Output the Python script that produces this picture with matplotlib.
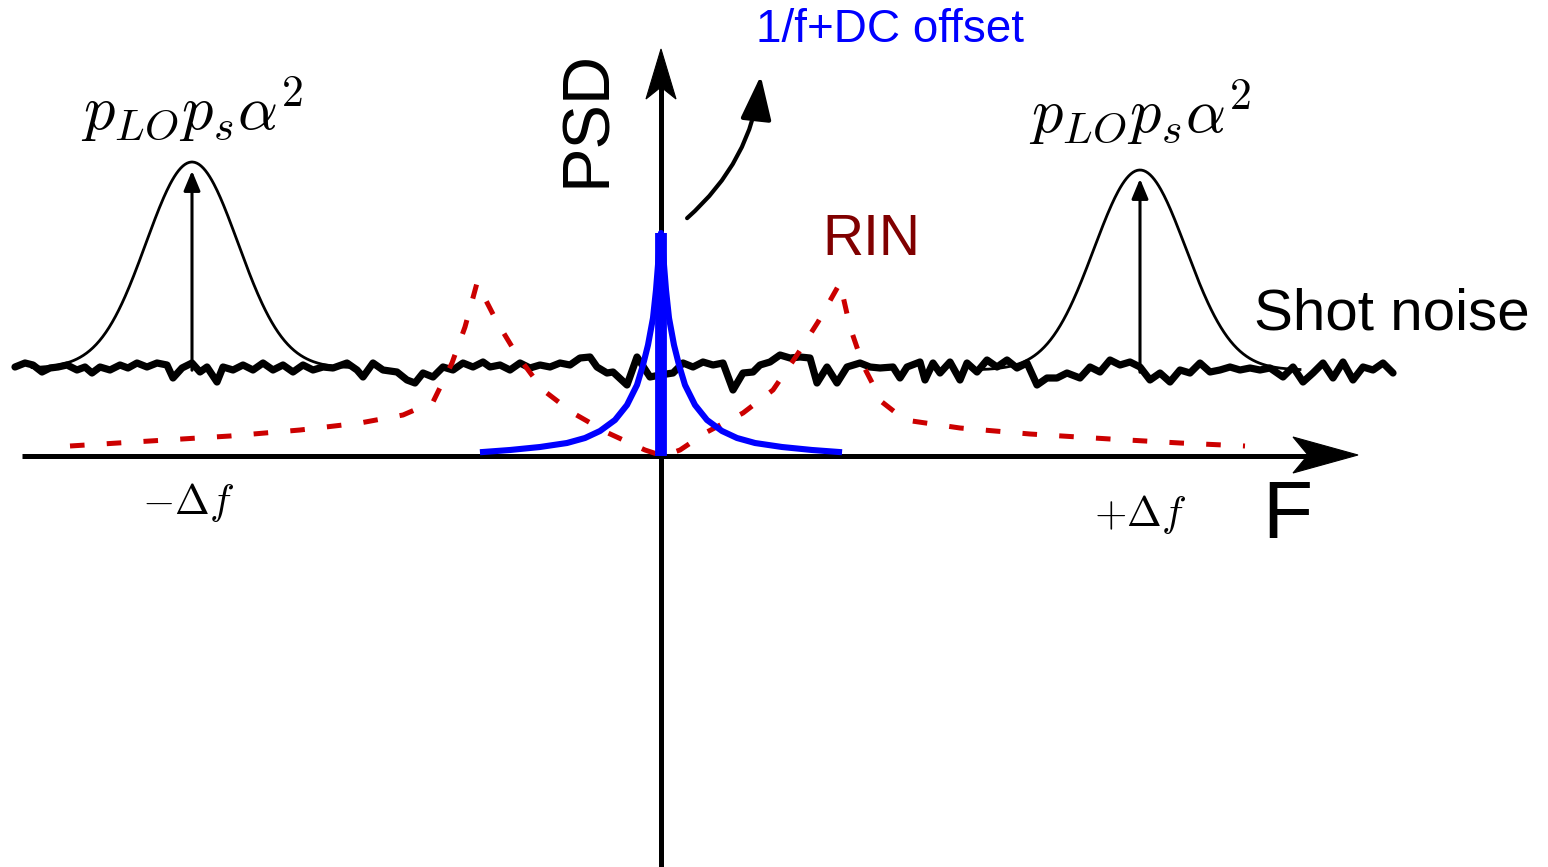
import numpy as np
import matplotlib
matplotlib.use("Agg")
import matplotlib.pyplot as plt
from matplotlib.patches import Polygon, FancyArrowPatch

plt.rcParams['mathtext.fontset'] = 'cm'
plt.rcParams['font.family'] = ['Liberation Sans', 'DejaVu Sans']
plt.rcParams['lines.scale_dashes'] = False

# Frequency axis: offset from DC. PSD axis: level above the F axis.
# Shot noise floor (wiggly trace)
noise_f = [-646, -636, -628, -619, -611, -603, -594, -584, -576, -569, -561, -551,
           -541, -533, -524, -514, -504, -494, -488, -479, -469, -461, -454, -444,
           -438, -428, -418, -408, -398, -388, -378, -368, -358, -348, -338, -328,
           -314, -304, -298, -288, -278, -264, -254, -246, -238, -228, -218, -208,
           -198, -188, -178, -171, -161, -151, -141, -131, -121, -111, -101, -91,
           -81, -71, -64, -54, -48, -34, -24, -11, -1, 12, 22, 32,
           42, 52, 62, 72, 82, 92, 99, 109, 119, 129, 139, 149,
           156, 166, 176, 186, 199, 209, 219, 232, 239, 246, 259, 264,
           272, 279, 289, 299, 306, 316, 326, 336, 346, 356, 366, 376,
           386, 396, 406, 419, 429, 439, 449, 459, 469, 479, 489, 499,
           509, 519, 529, 539, 549, 559, 569, 579, 589, 599, 609, 622,
           632, 642, 652, 662, 672, 682, 692, 702, 712, 722, 732]
noise_psd = [89, 93, 91, 84, 88, 89, 91, 86, 89, 83, 89, 86,
             91, 88, 93, 89, 93, 91, 78, 88, 93, 84, 89, 74,
             89, 86, 91, 86, 93, 86, 91, 84, 91, 86, 89, 88,
             93, 86, 79, 93, 86, 84, 76, 73, 83, 79, 89, 86,
             93, 89, 94, 89, 91, 86, 93, 88, 91, 89, 93, 91,
             98, 99, 89, 83, 84, 71, 99, 79, 81, 83, 93, 89,
             94, 91, 93, 66, 83, 84, 91, 94, 101, 98, 99, 98,
             73, 89, 73, 89, 93, 89, 88, 89, 78, 89, 94, 76,
             93, 83, 94, 76, 93, 84, 96, 89, 96, 88, 93, 71,
             78, 78, 83, 78, 89, 84, 96, 91, 94, 89, 76, 83,
             74, 86, 83, 93, 84, 86, 89, 86, 88, 86, 88, 79,
             89, 74, 83, 93, 78, 94, 76, 89, 86, 93, 83]

# RIN (red dashed, two cusps)
rin_f = [-591, -511, -431, -361, -301, -258, -228, -209, -196, -184, -164, -144,
         -118, -88, -53, -16, 2, 19, 46, 82, 112, 136, 157, 179,
         189, 202, 221, 244, 299, 369, 449, 519, 584]
rin_psd = [10, 15, 20, 26, 33, 41, 54, 93, 129, 173, 134, 101,
           66, 43, 23, 6, 0, 6, 24, 43, 66, 101, 134, 173,
           129, 91, 54, 36, 28, 22, 17, 13, 10]

# 1/f noise (blue) and DC offset
flicker_f = [-178, -151, -121, -94, -76, -61, -46, -34, -24, -18, -13, -8, -5, -3, -1, 0,
             1, 3, 5, 8, 13, 18, 24, 34, 46, 61, 76, 94, 121, 151, 178]
flicker_psd = [4, 6, 9, 13, 18, 25, 36, 51, 71, 91, 111, 138, 166, 191, 216, 223,
               216, 191, 166, 138, 111, 91, 71, 51, 36, 25, 18, 13, 9, 6, 4]
dc_height = 223

# beat-note peaks at +/- delta f
beat_f = [-469, 479]
beat_peak = [294, 286]
beat_floor = [88, 86]
beat_width = 46
beat_labels = [r'$-\Delta f$', r'$+\Delta f$']
beat_label_psd = [-47, -59]
beat_label_f = [-473, 479]
peak_label = r'$p_{LO}p_s\alpha^2$'
peak_label_psd = [346, 343]


def stealth_head(ax, tip, direction, length, half_width, notch, z=5):
    tip = np.asarray(tip, float)
    d = np.asarray(direction, float)
    d = d / np.hypot(*d)
    n = np.array([-d[1], d[0]])
    back = tip - d * length
    pts = [tip, back + n * half_width, tip - d * (length - notch), back - n * half_width]
    ax.add_patch(Polygon(pts, closed=True, fc='black', ec='black', lw=0.8, zorder=z))


fig = plt.figure(figsize=(15.48, 8.67), dpi=100)
ax = fig.add_axes([0, 0, 1, 1])
ax.set_xlim(-661, 887)
ax.set_ylim(-411, 456)
ax.axis('off')

# axes of the sketch
ax.plot([-639, 650], [0, 0], color='black', lw=3.6, solid_capstyle='butt', zorder=4)
stealth_head(ax, (697, 1), (1, 0), 65, 18, 15)
ax.plot([0, 0], [-411, 370], color='black', lw=3.6, solid_capstyle='butt', zorder=4)
stealth_head(ax, (0, 407), (0, 1), 50, 15, 12)

# beat peaks
for f0, pk, fl in zip(beat_f, beat_peak, beat_floor):
    ff = np.linspace(f0 - 160, f0 + 160, 300)
    ax.plot(ff, fl + (pk - fl) * np.exp(-(ff - f0) ** 2 / (2 * beat_width ** 2)),
            color='black', lw=2.0, zorder=2)
    ax.add_patch(FancyArrowPatch((f0, fl - 5), (f0, pk - 6),
                                 arrowstyle='-|>,head_length=12,head_width=5',
                                 mutation_scale=1, color='black', lw=2.2, zorder=2))

# shot noise
ax.plot(noise_f, noise_psd, color='black', lw=5.2, solid_joinstyle='round',
        solid_capstyle='round', zorder=3)

# RIN
ax.plot(rin_f, rin_psd, color='#cc0000', lw=3.6, dashes=(10.5, 16), zorder=5)

# 1/f and DC
ax.plot(flicker_f, flicker_psd, color='#0000ff', lw=4.4, zorder=6)
ax.plot([0, 0], [0, dc_height], color='#0000ff', lw=8.5, solid_capstyle='butt', zorder=7)

# curved pointer to the 1/f label
ax.add_patch(FancyArrowPatch((24, 236), (100, 383), connectionstyle='arc3,rad=0.2',
                             arrowstyle='-|>,head_length=27,head_width=9.5',
                             mutation_scale=1, color='black', lw=3.0, zorder=5))

# labels
for lab_f, lab_y, lab in zip(beat_label_f, beat_label_psd, beat_labels):
    ax.text(lab_f, lab_y, lab, fontsize=30, ha='center', va='center')
for f0, lab_y in zip(beat_f, peak_label_psd):
    ax.text(f0, lab_y, peak_label, fontsize=45, ha='center', va='center')

ax.text(229, 426, '1/f+DC offset', color='#0000ff', fontsize=33, ha='center', va='center')
ax.text(-73, 338, 'PSD', fontsize=48, rotation=90, ha='center', va='center')
ax.text(210, 216, 'RIN', color='#800000', fontsize=41, ha='center', va='center')
ax.text(731, 141, 'Shot noise', fontsize=42, ha='center', va='center')
ax.text(626, -61, 'F', fontsize=59, ha='center', va='center')

fig.savefig('out.png', dpi=100)
